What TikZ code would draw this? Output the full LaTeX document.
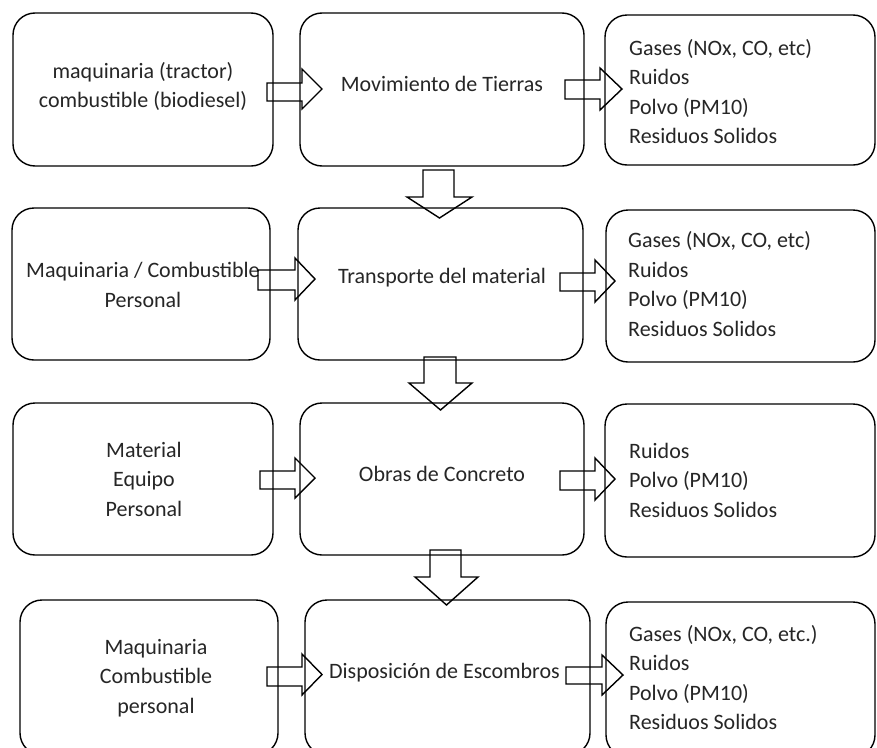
\documentclass[tikz,border=0pt]{standalone}
\usepackage{fontspec}
\setmainfont{Carlito}
\newcommand\blkH[7]{\draw[blk] (#1,#4) -- (#2,#4) -- (#2,#6) -- (#3,{(#6+#7)/2}) -- (#2,#7) -- (#2,#5) -- (#1,#5) -- cycle;}
\newcommand\blkV[7]{\draw[blk] (#1,#3) -- (#2,#3) -- (#2,#4) -- (#7,#4) -- ({(#6+#7)/2},#5) -- (#6,#4) -- (#1,#4) -- cycle;}
\begin{document}
\begin{tikzpicture}[x=1pt,y=-1pt,
  box/.style={draw, line width=1.4pt, rounded corners=22pt, inner sep=0pt, outer sep=0pt},
  txt/.style={inner sep=0pt, font=\fontsize{22}{29.5}\selectfont, text=black!85},
  blk/.style={draw, line width=1.4pt, line join=miter}]
\clip (0,0) rectangle (877,747);
\fill[white] (0,0) rectangle (877,747);
% boxes
\node[box, minimum width=260pt, minimum height=153pt] (L1) at (143,89.5) {};
\node[box, minimum width=284pt, minimum height=153pt] (M1) at (442,89.5) {};
\node[box, minimum width=270pt, minimum height=150pt] (R1) at (740,90) {};
\node[box, minimum width=258pt, minimum height=152pt] (L2) at (141,284) {};
\node[box, minimum width=285pt, minimum height=152pt] (M2) at (440.5,284) {};
\node[box, minimum width=269pt, minimum height=152pt] (R2) at (740.5,286) {};
\node[box, minimum width=260pt, minimum height=152pt] (L3) at (143,479) {};
\node[box, minimum width=284pt, minimum height=152pt] (M3) at (442,479) {};
\node[box, minimum width=270pt, minimum height=153pt] (R3) at (740,480.5) {};
\node[box, minimum width=258pt, minimum height=155pt] (L4) at (149,677.5) {};
\node[box, minimum width=285pt, minimum height=155pt] (M4) at (447.5,677.5) {};
\node[box, minimum width=269pt, minimum height=155pt] (R4) at (740.5,679.5) {};
% texts
\node[txt, align=center] (tL1) at (143,86.5) {maquinaria (tractor)\\combustible (biodiesel)};
\node[txt] (tM1) at (442,84) {Movimiento de Tierras};
\node[txt, align=left, anchor=west] (tR1) at (629,91.5) {Gases (NOx, CO, etc)\\Ruidos\\Polvo (PM10)\\Residuos Solidos};
\node[txt, align=center] (tL2) at (143,285) {Maquinaria / Combustible\\Personal};
\node[txt] (tM2) at (442,278) {Transporte del material};
\node[txt, align=left, anchor=west] (tR2) at (628,284) {Gases (NOx, CO, etc)\\Ruidos\\Polvo (PM10)\\Residuos Solidos};
\node[txt, align=center] (tL3) at (144,479) {Material\\Equipo\\Personal};
\node[txt] (tM3) at (442,474) {Obras de Concreto};
\node[txt, align=left, anchor=west] (tR3) at (629,480) {Ruidos\\Polvo (PM10)\\Residuos Solidos};
\node[txt, align=center] (tL4) at (156,678) {Maquinaria\\Combustible\\personal};
\node[txt] (tM4) at (444.5,673) {Disposición de Escombros};
\node[txt, align=left, anchor=west] (tR4) at (629,677.5) {Gases (NOx, CO, etc.)\\Ruidos\\Polvo (PM10)\\Residuos Solidos};
% horizontal block arrows
\blkH{267}{302}{322}{83}{101}{69}{109}
\blkH{565}{600}{622}{80}{99}{68}{110}
\blkH{258}{295}{315}{270}{290}{258}{300}
\blkH{560}{595}{615}{273}{291}{260}{302}
\blkH{260}{295}{315}{471}{489}{458}{498}
\blkH{560}{595}{615}{471}{490}{458}{500}
\blkH{267}{302}{322}{667}{686}{654}{695}
\blkH{566}{602}{623}{667}{684}{655}{695}
% vertical block arrows
\blkV{423}{454}{170}{197}{218}{407}{472}
\blkV{424}{456}{357}{383}{410}{409}{472}
\blkV{430}{461}{550}{577}{605}{415}{478}
\end{tikzpicture}
\end{document}
